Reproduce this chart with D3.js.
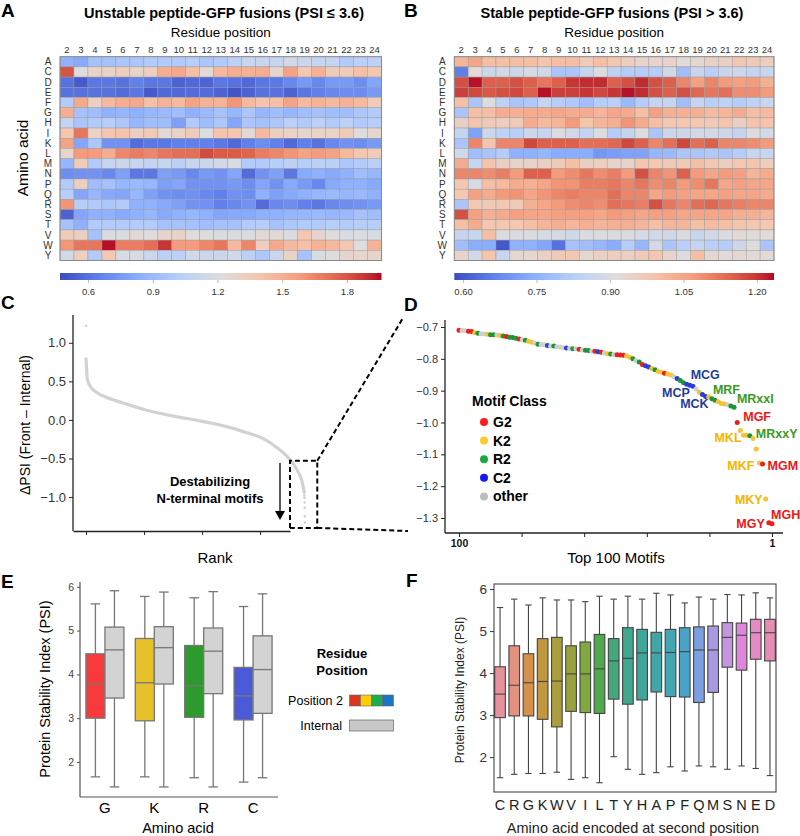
<!DOCTYPE html>
<html><head><meta charset="utf-8">
<script src="https://cdn.jsdelivr.net/npm/d3@7"></script>
<style>body{margin:0;background:#fff} svg{font-family:"Liberation Sans",Arial,sans-serif}</style>
</head><body><svg id="chart" width="800" height="836"></svg>
<script>
// ---------------- DATA ----------------
const aminoAcids = ["A","C","D","E","F","G","H","I","K","L","M","N","P","Q","R","S","T","V","W","Y"];
const positions = [2,3,4,5,6,7,8,9,10,11,12,13,14,15,16,17,18,19,20,21,22,23,24];

// Panel A: unstable peptide-GFP fusions (rows = aminoAcids, cols = positions)
const unstable = [
 [0.85,0.82,0.95,0.95,0.97,0.97,1.0,1.0,1.0,1.02,0.97,1.0,1.05,1.1,1.1,1.1,1.15,1.12,1.08,1.08,1.0,1.03,1.05],
 [1.8,1.22,1.3,1.3,1.33,1.3,1.32,1.5,1.52,1.42,1.25,1.45,1.5,1.48,1.5,1.28,1.55,1.38,1.48,1.35,1.35,1.42,1.38],
 [0.6,0.52,0.62,0.62,0.6,0.65,0.62,0.62,0.55,0.57,0.55,0.62,0.6,0.57,0.62,0.63,0.68,0.75,0.68,0.75,0.75,0.7,0.8],
 [0.6,0.6,0.6,0.6,0.58,0.62,0.52,0.57,0.57,0.58,0.58,0.55,0.5,0.55,0.6,0.6,0.55,0.62,0.65,0.68,0.7,0.7,0.75],
 [1.0,1.52,1.32,1.45,1.5,1.52,1.42,1.48,1.45,1.55,1.48,1.48,1.6,1.45,1.4,1.42,1.55,1.45,1.48,1.45,1.48,1.45,1.35],
 [1.5,0.95,0.92,0.85,0.88,0.85,0.88,0.9,0.92,0.85,0.9,0.95,0.88,0.97,0.88,0.92,0.88,0.92,0.95,0.92,0.92,0.98,1.0],
 [1.08,0.97,1.0,1.02,0.98,0.88,0.92,0.92,0.78,1.0,0.92,0.98,0.8,0.97,0.95,0.98,1.05,1.0,1.05,1.0,1.05,1.0,1.02],
 [1.38,1.7,1.3,1.38,1.4,1.32,1.35,1.25,1.3,1.35,1.2,1.4,1.38,1.25,1.45,1.32,1.3,1.28,1.3,1.3,1.35,1.22,1.27],
 [1.55,0.8,0.98,0.72,0.72,0.58,0.62,0.62,0.65,0.65,0.65,0.62,0.57,0.65,0.7,0.65,0.57,0.65,0.6,0.68,0.72,0.7,0.75],
 [1.28,1.58,1.58,1.5,1.65,1.68,1.65,1.7,1.72,1.72,1.82,1.78,1.78,1.75,1.68,1.65,1.6,1.55,1.58,1.55,1.45,1.38,1.35],
 [0.88,1.35,1.0,1.1,1.12,1.1,1.08,1.1,1.05,1.1,1.12,1.15,1.18,1.0,1.0,1.02,1.05,1.02,1.05,1.05,0.98,1.0,1.05],
 [0.7,0.72,0.72,0.68,0.78,0.62,0.62,0.78,0.75,0.68,0.75,0.72,0.8,0.58,0.72,0.78,0.62,0.82,0.85,0.82,0.85,0.92,0.88],
 [1.0,1.32,0.92,0.95,0.88,0.9,0.88,0.78,0.8,0.72,0.72,0.72,0.75,0.7,0.8,0.72,0.82,0.75,0.68,0.82,0.85,0.85,0.82],
 [1.02,0.8,0.88,0.82,0.8,0.88,0.78,0.72,0.7,0.72,0.68,0.65,0.72,0.7,0.85,0.78,0.82,0.85,0.88,0.9,0.88,0.9,0.85],
 [1.6,1.02,1.0,0.98,1.0,0.85,0.85,0.82,0.78,0.72,0.72,0.65,0.68,0.72,0.58,0.68,0.7,0.65,0.62,0.68,0.7,0.72,0.75],
 [0.55,0.8,0.85,0.85,0.82,0.85,0.88,0.82,0.85,0.88,0.85,0.8,0.82,0.82,0.85,0.85,0.88,0.88,0.9,0.88,0.9,0.95,0.92],
 [0.95,0.85,1.0,1.0,1.0,1.0,1.0,0.95,0.95,0.95,0.92,0.95,0.95,1.0,1.02,0.95,0.98,1.0,1.0,1.02,1.0,1.02,1.02],
 [1.35,1.32,0.95,1.2,1.2,1.25,1.22,1.28,1.3,1.22,1.22,1.2,1.2,1.2,1.25,1.25,1.2,1.38,1.28,1.22,1.18,1.2,1.18],
 [1.6,1.7,1.7,1.95,1.68,1.68,1.72,1.88,1.58,1.58,1.65,1.7,1.45,1.65,1.32,1.52,1.45,1.42,1.48,1.45,1.38,1.22,1.48],
 [1.15,1.32,1.0,1.38,1.18,1.18,1.12,1.05,1.05,1.15,1.12,1.12,1.15,1.05,0.98,1.12,1.3,0.95,1.18,1.22,1.28,1.28,1.28]
];
// Panel B: stable peptide-GFP fusions
const stable = [
 [1.02,1.05,1.0,1.0,1.0,1.0,0.99,1.0,1.0,0.97,1.0,0.98,0.96,0.94,0.94,0.94,0.92,0.93,0.95,0.95,0.98,0.97,0.96],
 [0.66,0.92,0.87,0.88,0.87,0.89,0.88,0.8,0.8,0.85,0.9,0.84,0.82,0.82,0.82,0.88,0.78,0.86,0.83,0.86,0.87,0.85,0.86],
 [1.17,1.23,1.15,1.15,1.17,1.15,1.12,1.15,1.2,1.21,1.21,1.15,1.17,1.21,1.17,1.15,1.1,1.06,1.1,1.07,1.06,1.07,1.03],
 [1.19,1.18,1.16,1.17,1.18,1.15,1.23,1.19,1.19,1.2,1.18,1.2,1.23,1.21,1.17,1.15,1.17,1.14,1.12,1.13,1.09,1.09,1.07],
 [1.0,0.8,0.9,0.84,0.8,0.81,0.85,0.82,0.81,0.78,0.82,0.83,0.77,0.82,0.85,0.85,0.78,0.85,0.83,0.84,0.82,0.84,0.86],
 [0.8,1.0,1.0,1.04,1.03,1.04,1.04,1.05,1.04,1.04,1.02,1.05,1.04,1.0,1.06,1.03,1.03,1.03,1.01,1.02,1.04,1.0,1.01],
 [0.95,0.99,0.97,0.96,0.97,1.04,1.01,1.02,1.07,0.99,1.02,1.03,1.08,1.04,1.0,0.98,0.98,0.98,0.97,0.99,0.95,0.99,0.99],
 [0.85,0.72,0.87,0.84,0.83,0.87,0.85,0.9,0.88,0.85,0.9,0.82,0.85,0.9,0.8,0.87,0.87,0.88,0.88,0.87,0.85,0.9,0.88],
 [0.8,1.1,0.99,1.1,1.1,1.18,1.15,1.15,1.15,1.13,1.13,1.14,1.18,1.15,1.1,1.13,1.18,1.13,1.15,1.1,1.1,1.09,1.07],
 [0.88,0.78,0.8,0.82,0.75,0.75,0.76,0.74,0.74,0.74,0.7,0.71,0.72,0.72,0.76,0.77,0.8,0.8,0.81,0.8,0.82,0.86,0.86],
 [1.04,0.86,0.99,0.95,0.94,0.94,0.95,0.97,1.0,0.95,0.96,0.94,0.94,0.98,0.98,0.97,0.97,1.0,0.98,0.96,0.98,0.99,0.96],
 [1.1,1.1,1.09,1.11,1.07,1.15,1.15,1.07,1.09,1.12,1.09,1.11,1.07,1.17,1.1,1.08,1.15,1.07,1.05,1.07,1.06,1.02,1.04],
 [0.98,0.89,1.0,1.01,1.04,1.03,1.05,1.08,1.08,1.11,1.11,1.12,1.1,1.12,1.09,1.1,1.07,1.09,1.12,1.05,1.06,1.05,1.05],
 [0.98,1.06,1.04,1.07,1.08,1.05,1.08,1.1,1.11,1.1,1.1,1.13,1.1,1.1,1.05,1.07,1.06,1.05,1.05,1.06,1.05,1.05,1.04],
 [0.8,0.98,0.97,0.98,0.97,1.03,1.05,1.07,1.09,1.1,1.09,1.13,1.12,1.11,1.17,1.12,1.1,1.13,1.14,1.12,1.11,1.1,1.1],
 [1.17,1.06,1.03,1.04,1.06,1.05,1.05,1.06,1.06,1.06,1.05,1.07,1.06,1.05,1.06,1.06,1.05,1.05,1.05,1.05,1.03,1.03,1.02],
 [1.0,1.04,0.98,0.98,0.98,1.0,1.02,1.03,1.02,1.03,1.02,1.03,1.03,1.02,1.0,1.02,1.02,1.0,1.01,1.0,0.99,0.98,0.98],
 [0.85,0.86,1.0,0.9,0.9,0.9,0.89,0.89,0.88,0.9,0.9,0.9,0.9,0.89,0.88,0.88,0.9,0.86,0.88,0.9,0.92,0.92,0.92],
 [0.78,0.74,0.74,0.6,0.75,0.75,0.73,0.64,0.79,0.78,0.76,0.74,0.82,0.76,0.88,0.8,0.83,0.85,0.83,0.82,0.87,0.91,0.8],
 [0.94,0.88,0.99,0.86,0.93,0.93,0.95,0.97,0.98,0.93,0.95,0.96,0.95,0.97,0.99,0.94,0.9,1.0,0.93,0.92,0.93,0.92,0.92]
];
const unstableDomain = [0.47, 1.96];
const stableDomain = [0.582, 1.235];
const unstableTicks = [0.6, 0.9, 1.2, 1.5, 1.8];
const stableTicks = [0.60, 0.75, 0.90, 1.05, 1.20];

// Panel C: ranked ΔPSI curve (rank, ΔPSI)
const curveRank  = [0, 20, 40, 140, 370, 710, 1280, 2090, 3010, 3930, 4850, 5540, 6110, 6580, 6920, 7150, 7320, 7440, 7520];
const curveDelta = [0.79, 0.66, 0.53, 0.44, 0.355, 0.29, 0.22, 0.125, 0.05, -0.013, -0.087, -0.165, -0.243, -0.36, -0.47, -0.575, -0.68, -0.79, -0.94];
const tailRank  = [0, 7525, 7530, 7535, 7540, 7545, 7550];
const tailDelta = [1.22, -0.98, -1.01, -1.07, -1.14, -1.25, -1.33];
const rankTicks = [0, 2000, 4000, 6000];
const deltaTicks = [-1.0, -0.5, 0.0, 0.5, 1.0];

// Panel D: top 100 motifs (rank 1..100)
const motifPSI = [-1.318,-1.315,-1.24,-1.13,-1.127,-1.083,-1.05,-1.042,-1.04,-1.04,
 -1.025,-1.0,-0.952,-0.948,-0.944,-0.942,-0.94,-0.935,-0.93,-0.925,
 -0.92,-0.918,-0.912,-0.905,-0.895,-0.886,-0.883,-0.88,-0.875,-0.868,
 -0.862,-0.856,-0.851,-0.848,-0.845,-0.842,-0.84,-0.834,-0.83,-0.826,
 -0.822,-0.818,-0.81,-0.805,-0.8,-0.795,-0.791,-0.789,-0.788,-0.787,
 -0.786,-0.785,-0.784,-0.782,-0.779,-0.778,-0.776,-0.775,-0.774,-0.773,
 -0.772,-0.77,-0.768,-0.768,-0.767,-0.766,-0.765,-0.763,-0.762,-0.76,
 -0.76,-0.758,-0.756,-0.755,-0.754,-0.75,-0.748,-0.745,-0.742,-0.74,
 -0.738,-0.735,-0.733,-0.732,-0.73,-0.728,-0.727,-0.725,-0.724,-0.724,
 -0.723,-0.722,-0.721,-0.72,-0.718,-0.714,-0.713,-0.712,-0.711,-0.71];
const motifClass = ["G2","G2","K2","G2","K2","K2","K2","R2","K2","K2",
 "K2","G2","R2","R2","other","K2","K2","K2","R2","R2",
 "K2","C2","C2","K2","other","C2","C2","C2","R2","R2",
 "C2","other","K2","K2","G2","K2","K2","R2","K2","C2",
 "C2","G2","R2","other","R2","K2","K2","G2","G2","G2",
 "other","R2","K2","other","G2","C2","G2","other","R2","R2",
 "other","G2","other","R2","other","C2","other","other","other","R2",
 "other","C2","other","other","R2","other","K2","K2","R2","other",
 "G2","R2","R2","R2","G2","R2","K2","other","R2","R2",
 "K2","other","other","R2","K2","G2","G2","other","other","G2"];
const motifLabels = [
 {text:"MGH", rank:1}, {text:"MGY", rank:2}, {text:"MKY", rank:3}, {text:"MGM", rank:4},
 {text:"MKF", rank:5}, {text:"MRxxY", rank:8}, {text:"MKL", rank:10}, {text:"MGF", rank:12},
 {text:"MRxxI", rank:14}, {text:"MRF", rank:20}, {text:"MCK", rank:22}, {text:"MCP", rank:27}, {text:"MCG", rank:28}
];
const motifClasses = ["G2","K2","R2","C2","other"];
const psiTicksD = [-1.3,-1.2,-1.1,-1.0,-0.9,-0.8,-0.7];

// Panel E: [whiskerLow, Q1, median, Q3, whiskerHigh]
const eAminoAcids = ["G","K","R","C"];
const ePosition2 = [[1.66,3.0,3.78,4.47,5.61],[1.66,2.94,3.81,4.82,5.78],[1.64,3.02,3.74,4.66,5.75],[1.54,2.96,3.51,4.16,5.55]];
const eInternal  = [[1.43,3.46,4.56,5.08,5.91],[1.43,3.78,4.61,5.09,5.88],[1.43,3.56,4.53,5.06,5.89],[1.64,3.11,4.11,4.88,5.84]];
const psiTicks = [2,3,4,5,6];

// Panel F
const fAminoAcids = ["C","R","G","K","W","V","I","L","T","Y","H","A","P","F","Q","M","S","N","E","D"];
const fStats = [
 [1.51,2.94,3.5,4.15,5.56],[1.59,2.98,3.71,4.65,5.76],[1.61,2.98,3.77,4.46,5.62],[1.61,2.9,3.8,4.82,5.79],
 [1.64,2.72,3.81,4.85,5.74],[1.47,3.09,3.98,4.65,5.74],[1.51,3.06,3.98,4.74,5.7],[1.39,3.04,4.1,4.92,5.83],
 [2.01,3.38,4.29,4.82,5.76],[1.71,3.26,4.35,5.08,5.83],[1.59,3.36,4.48,5.04,5.76],[1.63,3.55,4.48,4.97,5.9],
 [1.77,3.44,4.49,5.04,5.86],[1.67,3.43,4.51,5.08,5.67],[1.79,3.3,4.55,5.1,5.81],[1.77,3.54,4.55,5.12,5.76],
 [1.71,4.14,4.85,5.2,5.87],[1.79,4.07,4.9,5.19,5.86],[1.73,4.33,4.96,5.28,5.91],[1.56,4.29,4.96,5.28,5.79]
];
const fColors = ["#e8909c","#e39282","#d8914c","#c2983f","#ab9e3e","#98a23e","#7fa83f","#4eaa4c","#43a97c","#40a78d",
 "#41a69a","#42a6a6","#44a5b3","#4aa3c7","#7b9fe0","#a79ae2","#c595e0","#df86dc","#e48bc4","#e58db2"];

// ---------------- DRAWING ----------------
const svg = d3.select("#chart");
const FONT = '"Liberation Sans", Arial, sans-serif';

function coolwarm(domain){
  const stops = ["#3b4cc0","#6282ea","#8db0fe","#b9d0f9","#dddddd","#f5c4ac","#f49a7b","#dc5d4a","#b40426"];
  const d = stops.map((_,i)=> domain[0] + (domain[1]-domain[0])*i/(stops.length-1));
  return d3.scaleLinear().domain(d).range(stops).interpolate(d3.interpolateLab).clamp(true);
}

function letter(t,x,y){ svg.append("text").attr("x",x).attr("y",y).text(t).attr("font-size",19).attr("font-weight","bold").attr("fill","#000"); }

function heatmap(o){
  const x = d3.scaleBand().domain(positions).range([o.left,o.right]);
  const y = d3.scaleBand().domain(aminoAcids).range([o.top,o.bottom]);
  const color = coolwarm(o.domain);
  const g = svg.append("g");
  o.data.forEach((row,i)=> row.forEach((v,j)=>{
    g.append("rect").attr("x",x(positions[j])).attr("y",y(aminoAcids[i]))
     .attr("width",x.bandwidth()).attr("height",y.bandwidth())
     .attr("fill",color(v)).attr("stroke","#9a9a9a").attr("stroke-width",0.45);
  }));
  g.append("rect").attr("x",o.left).attr("y",o.top).attr("width",o.right-o.left).attr("height",o.bottom-o.top)
   .attr("fill","none").attr("stroke","#8a8a8a").attr("stroke-width",1);
  g.selectAll("text.col").data(positions).join("text").attr("x",d=>x(d)+x.bandwidth()/2).attr("y",o.top-4)
   .attr("text-anchor","middle").attr("font-size",9.5).attr("fill","#333").text(d=>d);
  g.selectAll("text.row").data(aminoAcids).join("text").attr("x",o.left-12).attr("y",d=>y(d)+y.bandwidth()/2+3.5)
   .attr("text-anchor","middle").attr("font-size",10).attr("fill","#333").text(d=>d);
  // title
  svg.append("text").attr("x",o.titleX).attr("y",18).attr("text-anchor","middle").attr("font-size",14.5)
   .attr("font-weight","bold").text(o.title);
  svg.append("text").attr("x",(o.left+o.right)/2).attr("y",37).attr("text-anchor","middle").attr("font-size",13.5)
   .text("Residue position");
  // colorbar
  const cb = d3.scaleLinear().domain(o.domain).range([o.left,o.right]);
  const gid = "grad"+o.id;
  const grad = svg.append("defs").append("linearGradient").attr("id",gid);
  d3.range(0,41).forEach(i=>{ const v=o.domain[0]+(o.domain[1]-o.domain[0])*i/40;
    grad.append("stop").attr("offset",(i/40*100)+"%").attr("stop-color",color(v)); });
  svg.append("rect").attr("x",o.left).attr("y",273).attr("width",o.right-o.left).attr("height",7).attr("fill",`url(#${gid})`);
  const ax = svg.append("g").attr("transform","translate(0,280)")
    .call(d3.axisBottom(cb).tickValues(o.ticks).tickFormat(o.fmt).tickSize(3).tickSizeOuter(0));
  ax.select(".domain").remove();
  ax.selectAll("line").attr("stroke","#bbb");
  ax.selectAll("text").attr("font-size",9.5).attr("fill","#333").attr("font-family",FONT).attr("dy","0.9em");
}

heatmap({id:"A",data:unstable,left:60,right:381.5,top:56.7,bottom:260.5,domain:unstableDomain,ticks:unstableTicks,
  fmt:d3.format(".1f"),title:"Unstable peptide-GFP fusions (PSI \u2264 3.6)",titleX:224});
heatmap({id:"B",data:stable,left:454.3,right:774,top:56.7,bottom:260.5,domain:stableDomain,ticks:stableTicks,
  fmt:d3.format(".2f"),title:"Stable peptide-GFP fusions (PSI > 3.6)",titleX:612});
svg.append("text").attr("transform","translate(28,158) rotate(-90)").attr("text-anchor","middle")
  .attr("font-size",15.5).text("Amino acid");
letter("A",1,17); letter("B",404,17);

// ---- Panel C ----
(function(){
  const x = d3.scaleLinear().domain([-450,7030]).range([73,290]);
  const y = d3.scaleLinear().domain([-1.44,1.36]).range([531,315]);
  const g = svg.append("g");
  const line = d3.line().x((d,i)=>x(curveRank[i])).y((d,i)=>y(curveDelta[i])).curve(d3.curveMonotoneX);
  g.append("path").datum(curveDelta).attr("d",line).attr("fill","none").attr("stroke","#d2d2d2").attr("stroke-width",3.2).attr("stroke-linecap","round");
  g.selectAll("circle.t").data(tailDelta).join("circle").attr("cx",(d,i)=>x(tailRank[i])).attr("cy",d=>y(d))
   .attr("r",1.3).attr("fill","#d0d0d0");
  const ya = g.append("g").attr("transform","translate(73,0)").call(d3.axisLeft(y).tickValues(deltaTicks).tickFormat(d3.format(".1f")).tickSize(4).tickSizeOuter(0));
  ya.select(".domain").attr("d","M0,315V531").attr("stroke","#222").attr("stroke-width",1.3);
  ya.selectAll("line").attr("stroke","#222");
  ya.selectAll("text").attr("font-size",13).attr("fill","#333").attr("font-family",FONT);
  const xa = g.append("g").attr("transform","translate(0,531)").call(d3.axisBottom(x).tickValues(rankTicks).tickFormat("").tickSize(4).tickSizeOuter(0));
  xa.select(".domain").attr("stroke","#222").attr("stroke-width",1.3);
  xa.selectAll("line").attr("stroke","#222");
  svg.append("text").attr("x",215).attr("y",563).attr("text-anchor","middle").attr("font-size",15).text("Rank");
  svg.append("text").attr("transform","translate(30,425) rotate(-90)").attr("text-anchor","middle")
    .attr("font-size",14).text("\u0394PSI (Front \u2013 Internal)");
  // annotation
  svg.append("text").attr("x",210).attr("y",486).attr("text-anchor","middle").attr("font-size",13).attr("font-weight","bold").text("Destabilizing");
  svg.append("text").attr("x",210).attr("y",503).attr("text-anchor","middle").attr("font-size",13).attr("font-weight","bold").text("N-terminal motifs");
  svg.append("line").attr("x1",280).attr("x2",280).attr("y1",463).attr("y2",512).attr("stroke","#000").attr("stroke-width",1.3);
  svg.append("path").attr("d","M275,511 L285,511 L280,520 Z").attr("fill","#000");
  // zoom box and connectors
  const bx0 = x(7030), bx1 = x(7970), by0 = y(-0.53), by1 = y(-1.40);
  const dash = {"stroke":"#000","stroke-width":2,"stroke-dasharray":"5,3","fill":"none"};
  const box = svg.append("path").attr("d",`M${bx0},${by1}V${by0}H${bx1}V${by1}H${bx0}`);
  const c1 = svg.append("path").attr("d",`M${bx1},${by0}L403,318`);
  const c2 = svg.append("path").attr("d",`M${bx1},${by1}L408,531`);
  [box,c1,c2].forEach(p=>Object.entries(dash).forEach(([k,v])=>p.attr(k,v)));
  letter("C",1,309);
})();

// ---- Panel D ----
(function(){
  const x = d3.scaleLinear().domain([100,1]).range([459,772]);
  const y = d3.scaleLinear().domain([-1.3,-0.7]).range([518,327]);
  const ptColor = {G2:"#e8201e",K2:"#f2c536",R2:"#1f9438",C2:"#2b3fd6",other:"#cfcfcf"};
  const legColor = {G2:"#ff1a1a",K2:"#ffc926",R2:"#1aa748",C2:"#1616ff",other:"#bdbdbd"};
  const txtColor = {G2:"#f01515",K2:"#f5b400",R2:"#3c9a22",C2:"#1f3c9c",other:"#999"};
  const g = svg.append("g");
  const order = d3.range(motifPSI.length).reverse();
  g.selectAll("circle").data(order).join("circle").attr("cx",i=>x(i+1)).attr("cy",i=>y(motifPSI[i]))
    .attr("r",2.5).attr("fill",i=>ptColor[motifClass[i]]);
  const ya = g.append("g").attr("transform","translate(445,0)").call(d3.axisLeft(y).tickValues(psiTicksD).tickFormat(d3.format(".1f")).tickSize(4).tickSizeOuter(0));
  ya.select(".domain").attr("d","M0,320V533").attr("stroke","#222").attr("stroke-width",1.3);
  ya.selectAll("line").attr("stroke","#222");
  ya.selectAll("text").attr("font-size",11).attr("fill","#333").attr("font-family",FONT);
  const xt = [100,80.2,60.4,40.6,20.8,1];
  const xa = g.append("g").attr("transform","translate(0,533)").call(d3.axisBottom(x).tickValues(xt).tickFormat(d=> (d===100||d===1)? d3.format("d")(d):"").tickSize(4).tickSizeOuter(0));
  xa.select(".domain").attr("d","M445,0H783").attr("stroke","#222").attr("stroke-width",1.3);
  xa.selectAll("line").attr("stroke","#222");
  xa.selectAll("text").attr("font-size",10.5).attr("font-weight","bold").attr("fill","#111").attr("font-family",FONT);
  svg.append("text").attr("x",616).attr("y",563).attr("text-anchor","middle").attr("font-size",15).text("Top 100 Motifs");
  // labels
  const lay = {MGH:[-1,-5,"start"],MGY:[-4,5,"end"],MKY:[-3,5,"end"],MGM:[5,6,"start"],MKF:[-5,7,"end"],
    MRxxY:[6,2,"start"],MKL:[-2,7,"end"],MGF:[6,-2,"start"],MRxxI:[6,-3,"start"],MRF:[1,-5,"start"],
    MCK:[3,12,"end"],MCP:[0,12,"end"],MCG:[4,-5,"start"]};
  motifLabels.forEach(l=>{ const i=l.rank-1; const o=lay[l.text];
    svg.append("text").attr("x",x(l.rank)+o[0]).attr("y",y(motifPSI[i])+o[1]).attr("text-anchor",o[2])
      .attr("font-size",12.5).attr("font-weight","bold").attr("fill",txtColor[motifClass[i]]).text(l.text); });
  // legend
  svg.append("text").attr("x",472).attr("y",406).attr("font-size",14).attr("font-weight","bold").text("Motif Class");
  motifClasses.forEach((c,i)=>{ const cy = 422 + i*18.6;
    svg.append("circle").attr("cx",484).attr("cy",cy).attr("r",4).attr("fill",legColor[c]);
    svg.append("text").attr("x",493).attr("y",cy+5).attr("font-size",14).attr("font-weight","bold").text(c); });
  letter("D",404,311);
})();

// ---- Panel E ----
(function(){
  const x = d3.scaleBand().domain(eAminoAcids).range([80,278]).paddingInner(0.23).paddingOuter(0.12);
  const y = d3.scaleLinear().domain([1.2,6.11]).range([797,582]);
  const pos2Colors = ["#f83a3a","#e6c12b","#2c9a2c","#4a5ad8"];
  const g = svg.append("g");
  const bw = x.bandwidth()/2;
  function box(s,x0,fill){
    const cx = x0+bw/2;
    g.append("line").attr("x1",cx).attr("x2",cx).attr("y1",y(s[0])).attr("y2",y(s[4])).attr("stroke","#777").attr("stroke-width",1.3);
    [s[0],s[4]].forEach(v=>g.append("line").attr("x1",cx-bw*0.25).attr("x2",cx+bw*0.25).attr("y1",y(v)).attr("y2",y(v)).attr("stroke","#777").attr("stroke-width",1.3));
    g.append("rect").attr("x",x0).attr("y",y(s[3])).attr("width",bw).attr("height",y(s[1])-y(s[3])).attr("fill",fill).attr("stroke","#777").attr("stroke-width",1.3);
    g.append("line").attr("x1",x0).attr("x2",x0+bw).attr("y1",y(s[2])).attr("y2",y(s[2])).attr("stroke","#777").attr("stroke-width",1.3);
  }
  eAminoAcids.forEach((a,i)=>{ box(ePosition2[i],x(a),pos2Colors[i]); box(eInternal[i],x(a)+bw,"#d3d3d3"); });
  const ya = g.append("g").attr("transform","translate(80,0)").call(d3.axisLeft(y).tickValues(psiTicks).tickFormat(d3.format("d")).tickSize(3).tickSizeOuter(0));
  ya.select(".domain").attr("d","M0,582V797").attr("stroke","#555").attr("stroke-width",1.2);
  ya.selectAll("line").attr("stroke","#555");
  ya.selectAll("text").attr("font-size",10.5).attr("fill","#444").attr("font-family",FONT);
  g.append("line").attr("x1",80).attr("x2",278).attr("y1",797).attr("y2",797).attr("stroke","#555").attr("stroke-width",1.2);
  g.selectAll("text.xl").data(eAminoAcids).join("text").attr("x",d=>x(d)+x.bandwidth()/2).attr("y",813)
   .attr("text-anchor","middle").attr("font-size",15).text(d=>d);
  svg.append("text").attr("x",178).attr("y",833).attr("text-anchor","middle").attr("font-size",14.5).text("Amino acid");
  svg.append("text").attr("transform","translate(50,689) rotate(-90)").attr("text-anchor","middle").attr("font-size",14.5).text("Protein Stability Index (PSI)");
  // legend
  svg.append("text").attr("x",342).attr("y",658).attr("text-anchor","middle").attr("font-size",13).attr("font-weight","bold").text("Residue");
  svg.append("text").attr("x",342).attr("y",675).attr("text-anchor","middle").attr("font-size",13).attr("font-weight","bold").text("Position");
  svg.append("text").attr("x",343).attr("y",705).attr("text-anchor","end").attr("font-size",12.5).text("Position 2");
  ["#d9381e","#ffcc00","#1aae4f","#1b75c5"].forEach((c,i)=> svg.append("rect").attr("x",349.5+i*11).attr("y",695).attr("width",11).attr("height",11).attr("fill",c).attr("stroke","#666").attr("stroke-width",0.6));
  svg.append("text").attr("x",342).attr("y",730).attr("text-anchor","end").attr("font-size",12.5).text("Internal");
  svg.append("rect").attr("x",349.5).attr("y",720).attr("width",44).attr("height",11).attr("fill","#c8c8c8").attr("stroke","#777").attr("stroke-width",0.8);
  letter("E",1,588);
})();

// ---- Panel F ----
(function(){
  const x = d3.scaleBand().domain(fAminoAcids).range([494,776]).paddingInner(0.25).paddingOuter(0.05);
  const y = d3.scaleLinear().domain([1.17,6.12]).range([792,584]);
  const g = svg.append("g");
  const bw = x.bandwidth();
  fAminoAcids.forEach((a,i)=>{
    const s = fStats[i], x0 = x(a), cx = x0+bw/2;
    g.append("line").attr("x1",cx).attr("x2",cx).attr("y1",y(s[0])).attr("y2",y(s[4])).attr("stroke","#444").attr("stroke-width",1.1);
    [s[0],s[4]].forEach(v=>g.append("line").attr("x1",cx-bw*0.3).attr("x2",cx+bw*0.3).attr("y1",y(v)).attr("y2",y(v)).attr("stroke","#444").attr("stroke-width",1.1));
    g.append("rect").attr("x",x0).attr("y",y(s[3])).attr("width",bw).attr("height",y(s[1])-y(s[3])).attr("fill",fColors[i]).attr("stroke","#444").attr("stroke-width",1.1);
    g.append("line").attr("x1",x0).attr("x2",x0+bw).attr("y1",y(s[2])).attr("y2",y(s[2])).attr("stroke","#444").attr("stroke-width",1.1);
  });
  g.append("rect").attr("x",494).attr("y",584).attr("width",282).attr("height",208).attr("fill","none").attr("stroke","#333").attr("stroke-width",1);
  const ya = g.append("g").attr("transform","translate(494,0)").call(d3.axisLeft(y).tickValues(psiTicks).tickFormat(d3.format("d")).tickSize(4).tickSizeOuter(0));
  ya.select(".domain").remove();
  ya.selectAll("line").attr("stroke","#333");
  ya.selectAll("text").attr("font-size",13.5).attr("fill","#333").attr("font-family",FONT);
  g.selectAll("text.xl").data(fAminoAcids).join("text").attr("x",d=>x(d)+bw/2).attr("y",810)
   .attr("text-anchor","middle").attr("font-size",14.5).attr("fill","#222").text(d=>d);
  svg.append("text").attr("x",633).attr("y",833).attr("text-anchor","middle").attr("font-size",14.5).attr("fill","#222").text("Amino acid encoded at second position");
  svg.append("text").attr("transform","translate(464,690) rotate(-90)").attr("text-anchor","middle").attr("font-size",12).attr("fill","#222").text("Protein Stability Index (PSI)");
  letter("F",406,587);
})();
</script></body></html>
